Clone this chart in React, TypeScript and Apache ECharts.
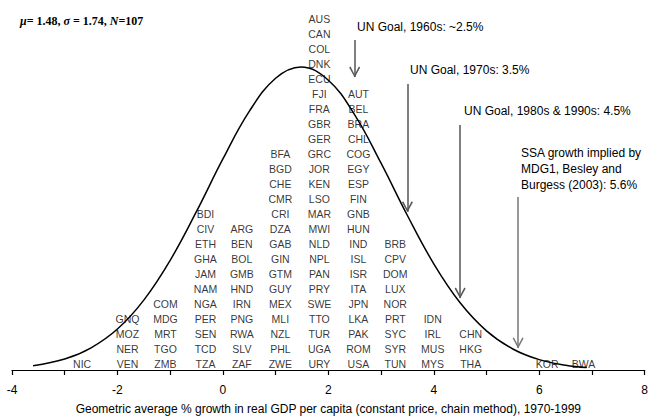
import React, { useEffect, useRef } from "react";
import * as echarts from "echarts";

// Column positions (growth %, x-axis units) and the countries stacked in each column (top to bottom)
const binCenters = [-2.67, -1.81, -1.09, -0.33, 0.36, 1.09, 1.83, 2.57, 3.27, 3.98, 4.7, 6.15, 6.84];
const binCountries: string[][] = [
  ["NIC"],
  ["GNQ", "MOZ", "NER", "VEN"],
  ["COM", "MDG", "MRT", "TGO", "ZMB"],
  ["BDI", "CIV", "ETH", "GHA", "JAM", "NAM", "NGA", "PER", "SEN", "TCD", "TZA"],
  ["ARG", "BEN", "BOL", "GMB", "HND", "IRN", "PNG", "RWA", "SLV", "ZAF"],
  ["BFA", "BGD", "CHE", "CMR", "CRI", "DZA", "GAB", "GIN", "GTM", "GUY", "MEX", "MLI", "NZL", "PHL", "ZWE"],
  ["AUS", "CAN", "COL", "DNK", "ECU", "FJI", "FRA", "GBR", "GER", "GRC", "JOR", "KEN", "LSO", "MAR", "MWI", "NLD", "NPL", "PAN", "PRY", "SWE", "TTO", "TUR", "UGA", "URY"],
  ["AUT", "BEL", "BRA", "CHL", "COG", "EGY", "ESP", "FIN", "GNB", "HUN", "IND", "ISL", "ISR", "ITA", "JPN", "LKA", "PAK", "ROM", "USA"],
  ["BRB", "CPV", "DOM", "LUX", "NOR", "PRT", "SYC", "SYR", "TUN"],
  ["IDN", "IRL", "MUS", "MYS"],
  ["CHN", "HKG", "THA"],
  ["KOR"],
  ["BWA"],
];

// Normal curve (mu = 1.48, sigma = 1.74, N = 107), in count units
const curveX = [-3.6, -3.0, -2.5, -2.0, -1.5, -1.0, -0.5, 0, 0.5, 1.0, 1.48, 2.0, 2.5, 3.0, 3.5, 4.0, 4.5, 5.0, 5.5, 6.0, 6.5, 6.9];
const curveY = [0.28, 0.73, 1.48, 2.73, 4.66, 7.31, 10.57, 14.07, 17.24, 19.45, 20.2, 19.32, 17.01, 13.79, 10.3, 7.08, 4.48, 2.61, 1.4, 0.69, 0.32, 0.16];

// Goal arrows: x position, start height, tip height (count units)
const arrowX = [2.5, 3.5, 4.5, 5.6];
const arrowTop = [22.0, 19.07, 16.33, 11.53];
const arrowTip = [19.53, 10.55, 4.8, 1.47];
const arrowColor = ["#555", "#555", "#555", "#777"];

const xTickLabels = ["-4", "-2", "0", "2", "4", "6", "8"];

const statsText = "{i|μ}{n|= 1.48, }{i|σ}{n| = 1.74, }{i|N}{n|=107}";
const goalTexts = [
  "UN Goal, 1960s: ~2.5%",
  "UN Goal, 1970s: 3.5%",
  "UN Goal, 1980s & 1990s: 4.5%",
  "SSA growth implied by\nMDG1, Besley and\nBurgess (2003): 5.6%",
];
const xTitle = "Geometric average % growth in real GDP per capita (constant price, chain method), 1970-1999";

const chevron = "path://M5,0 L10,9 L8.8,9.8 L5,2.6 L1.2,9.8 L0,9 Z";

export default function App() {
  const ref = useRef<HTMLDivElement>(null);
  useEffect(() => {
    if (!ref.current) return;
    const chart = echarts.init(ref.current, undefined, { renderer: "svg" });

    const labelData: any[] = [];
    binCountries.forEach((list, b) => {
      const n = list.length;
      list.forEach((code, i) => {
        const row = n - i;
        labelData.push({ value: [binCenters[b], row - 0.6], name: code });
      });
    });

    const curveData = curveX.map((x, i) => [x, curveY[i]]);

    const arrowSeries = arrowX.map((x, i) => ({
      type: "line",
      data: [],
      silent: true,
      markLine: {
        silent: true,
        animation: false,
        symbol: ["none", chevron],
        symbolSize: [11, 11],
        symbolOffset: [0, [0, 5]],
        label: { show: false },
        lineStyle: { color: arrowColor[i], width: 1.5, type: "solid" },
        itemStyle: { color: arrowColor[i] },
        emphasis: { disabled: true },
        data: [[{ coord: [x, arrowTop[i]] }, { coord: [x, arrowTip[i]] }]],
      },
    }));

    const sans = "'Liberation Sans', Arial, sans-serif";
    const serif = "'Liberation Serif', 'Times New Roman', serif";
    const goalStyle = { fontFamily: sans, fontSize: 12, fill: "#000" };

    chart.setOption({
      animation: false,
      backgroundColor: "#fff",
      grid: { left: 12, right: 3, top: 0, bottom: 50, containLabel: false },
      xAxis: {
        type: "value",
        min: -4,
        max: 8,
        interval: 1,
        name: xTitle,
        nameLocation: "middle",
        nameGap: 33,
        nameTextStyle: { fontFamily: sans, fontSize: 12, color: "#000" },
        axisLine: { show: true, onZero: false, lineStyle: { color: "#000", width: 1.2 } },
        axisTick: { show: true, inside: false, length: 5, lineStyle: { color: "#000", width: 1.2 } },
        axisLabel: {
          margin: 14,
          fontFamily: sans,
          fontSize: 12,
          color: "#000",
          showMinLabel: true,
          showMaxLabel: true,
          formatter: (v: number) => {
            const s = String(Math.round(v));
            return xTickLabels.includes(s) ? s : "";
          },
        },
        splitLine: { show: false },
      },
      yAxis: {
        type: "value",
        min: 0,
        max: 370 / 15,
        show: false,
        splitLine: { show: false },
      },
      series: [
        {
          type: "line",
          data: curveData,
          smooth: 0.4,
          showSymbol: false,
          symbol: "none",
          silent: true,
          lineStyle: { color: "#000", width: 1.5 },
          z: 3,
        },
        {
          type: "scatter",
          data: labelData,
          symbolSize: 0,
          silent: true,
          clip: false,
          label: {
            show: true,
            position: "inside",
            formatter: (p: any) => p.name,
            fontFamily: sans,
            fontSize: 10.5,
            color: "#000",
          },
          z: 2,
        },
        ...arrowSeries,
      ],
      graphic: [
        {
          type: "text",
          left: 20,
          top: 15,
          style: {
            text: statsText,
            fontFamily: serif,
            fontSize: 12,
            fontWeight: "bold",
            fill: "#000",
            rich: {
              i: { fontStyle: "italic", fontWeight: "bold", fontFamily: serif, fontSize: 12 },
              n: { fontWeight: "bold", fontFamily: serif, fontSize: 12 },
            },
          },
        },
        { type: "text", left: 357, top: 21, style: { text: goalTexts[0], ...goalStyle } },
        { type: "text", left: 410, top: 64, style: { text: goalTexts[1], ...goalStyle } },
        { type: "text", left: 464, top: 105, style: { text: goalTexts[2], ...goalStyle } },
        {
          type: "text",
          left: 521,
          top: 145,
          style: { text: goalTexts[3], ...goalStyle, lineHeight: 16 },
        },
      ],
    });
    return () => chart.dispose();
  }, []);
  return <div ref={ref} style={{ width: 651, height: 420, position: "absolute", left: 0, top: 0 }} />;
}
